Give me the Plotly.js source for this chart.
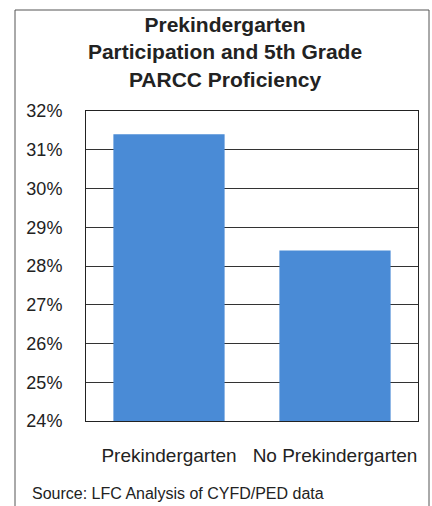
<!DOCTYPE html>
<html>
<head>
<meta charset="utf-8">
<script src="https://cdn.plot.ly/plotly-3.0.1.min.js"></script>
<style>html,body{margin:0;padding:0;background:#fff;}#chart{width:432px;height:506px;}</style>
</head>
<body>
<div id="chart"></div>
<script>
var categories = ["Prekindergarten", "No Prekindergarten"];
var proficiency = [0.314, 0.284];
var titleText = "Prekindergarten<br>Participation and 5th Grade<br>PARCC Proficiency";
var sourceText = "Source: LFC Analysis of CYFD/PED data";

var trace = {
  type: "bar",
  x: categories,
  y: proficiency,
  marker: {color: "#4a8bd6", line: {width: 0}},
  hoverinfo: "none"
};

var layout = {
  width: 432, height: 506,
  margin: {l: 86, r: 14, t: 111, b: 85},
  paper_bgcolor: "#ffffff",
  plot_bgcolor: "#ffffff",
  font: {family: "Liberation Sans, Arial, sans-serif", color: "#222"},
  bargap: 0.33,
  showlegend: false,
  title: {
    text: titleText,
    font: {size: 21, color: "#222", weight: "bold"},
    x: 225/432, xref: "container", xanchor: "center",
    y: 1 - 32/506, yref: "container", yanchor: "middle"
  },
  xaxis: {
    type: "category",
    showline: true, mirror: true, linecolor: "#222", linewidth: 1,
    showgrid: false, ticks: "",
    tickfont: {size: 19, color: "#222"},
    ticklabelstandoff: 17
  },
  yaxis: {
    range: [0.24, 0.32], dtick: 0.01, tick0: 0.24,
    tickformat: ".0%",
    showline: true, mirror: true, linecolor: "#222", linewidth: 1,
    showgrid: true, gridcolor: "#333", gridwidth: 1,
    zeroline: false, ticks: "",
    tickfont: {size: 18, color: "#222"},
    ticklabelstandoff: 19
  },
  shapes: [{
    type: "rect", xref: "paper", yref: "paper",
    x0: (15-86)/332, x1: (429-86)/332,
    y0: (421-520)/310, y1: 1 + (111-10)/310,
    line: {color: "#555", width: 1}, layer: "below"
  }],
  annotations: [{
    text: sourceText, showarrow: false,
    xref: "paper", yref: "paper",
    x: (30-86)/332, xanchor: "left",
    y: (421-493)/310, yanchor: "middle",
    font: {size: 16, color: "#222"}
  }]
};

Plotly.newPlot("chart", [trace], layout, {staticPlot: true, displayModeBar: false});
</script>
</body>
</html>
